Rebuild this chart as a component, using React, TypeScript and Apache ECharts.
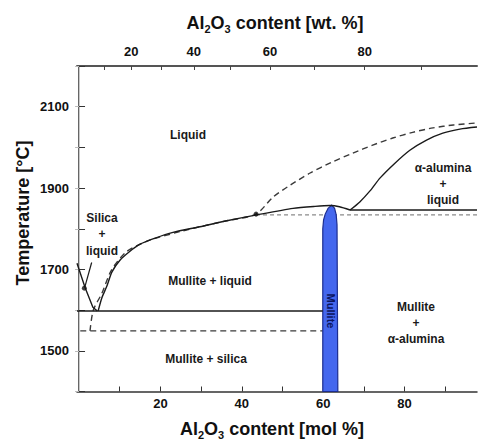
import React, { useEffect, useRef } from 'react';
import * as echarts from 'echarts';

// ---- axis ticks ----
const wtTicks = [10, 20, 30, 40, 50, 60, 70, 80, 90];
const wtLabels = [20, 40, 60, 80];
const molTicks = [10, 20, 30, 40, 50, 60, 70, 80, 90];
const molLabels = [20, 40, 60, 80];
const tempLabels = [1500, 1700, 1900, 2100];

// ---- phase boundaries [mol % Al2O3, °C] ----
const solidMulliteLiquidus = [
  [4.7, 1598], [5.6, 1630], [6.8, 1658], [8.1, 1694], [10.1, 1723], [12.3, 1743],
  [15, 1762], [18.7, 1777], [23.1, 1791], [29.7, 1805], [36, 1819], [43.7, 1834],
  [52.6, 1850], [58, 1855], [61.7, 1857], [64, 1854], [66.6, 1846],
];
const solidAluminaLiquidus = [
  [66.6, 1846], [69, 1866], [71.5, 1893], [74, 1925], [77.5, 1960], [81.3, 1993], [85.4, 2018],
  [89.4, 2035], [93.6, 2045], [97.8, 2050],
];
const solidSilicaLiquidus = [[-0.5, 1715], [1.5, 1655], [3.4, 1607], [4.5, 1598]];
const solidEutectic = [[-0.5, 1598], [59.9, 1598]];
const solidPeritectic = [[66.6, 1846], [97.8, 1846]];
const dashedLiquidus = [
  [2.7, 1549], [3.5, 1600], [5.6, 1641], [8.0, 1699], [11.7, 1744], [17.4, 1772],
  [24.8, 1793], [29.7, 1805], [36, 1819], [43.5, 1836], [47.7, 1878], [52, 1908],
  [56.8, 1937], [62, 1963], [67.3, 1986], [72, 2005], [77.1, 2023], [82, 2037],
  [87, 2048], [92, 2055], [97.8, 2060],
];
const dashedEutectic = [[0.3, 1549], [59.9, 1549]];
const dashedUpperLine = [[43.5, 1834], [97.8, 1834]];
const pointerLine = [[3.1, 1717], [1.4, 1656]];
const markerDots = [[1.3, 1654], [43.5, 1836]];
const mulliteOutline = [
  [59.9, 1400], [59.9, 1800], [60.1, 1822], [60.5, 1836], [61.2, 1850], [62.1, 1858],
  [62.8, 1850], [63.2, 1834], [63.4, 1810], [63.6, 1400],
];

const FONT = '"Liberation Sans", Arial, Helvetica, sans-serif';

function wtToMol(w: number): number {
  const a = w / 101.96;
  const s = (100 - w) / 60.08;
  return (a / (a + s)) * 100;
}

function titleRich(size: number) {
  return {
    a: { fontSize: size, fontWeight: 'bold', fontFamily: FONT, lineHeight: 22, fill: '#111', color: '#111' },
    s: { fontSize: Math.round(size * 0.62), fontWeight: 'bold', fontFamily: FONT, lineHeight: 10, verticalAlign: 'bottom', fill: '#111', color: '#111' },
  };
}

export default function App() {
  const ref = useRef<HTMLDivElement>(null);

  useEffect(() => {
    if (!ref.current) return;
    const chart = echarts.init(ref.current, undefined, { renderer: 'svg' });
    const XMIN = -0.5;
    const XMAX = 97.8;

    const solid = (data: number[][], smooth: number | boolean = false) => ({
      type: 'line', data, symbol: 'none', z: 4, silent: true, smooth,
      lineStyle: { color: '#1a1a1a', width: 1.4, type: 'solid' },
    });
    const dashed = (data: number[][], color: string, dash: number[], smooth: number | boolean = false) => ({
      type: 'line', data, symbol: 'none', z: 2, silent: true, smooth,
      lineStyle: { color, width: 1.4, type: dash },
    });

    const labelStyle = (text: string, x: number, y: number, lh = 16) => ({
      type: 'text', x, y, z: 10,
      style: {
        text, x: 0, y: 0, align: 'center', verticalAlign: 'middle', textAlign: 'center', textVerticalAlign: 'middle',
        font: `bold 12px ${FONT}`, fill: '#1a1a1a', lineHeight: lh,
      },
    });

    const option: any = {
      animation: false,
      grid: { left: 77, top: 66, right: 1, bottom: 50.5, containLabel: false },
      xAxis: [
        {
          type: 'value', position: 'bottom', min: XMIN, max: XMAX,
          axisLine: { show: true, lineStyle: { color: '#333', width: 1.5 } },
          axisTick: { show: true, inside: true, length: 5, customValues: molTicks, lineStyle: { color: '#333', width: 1 } },
          axisLabel: {
            show: true, customValues: molLabels, margin: 5,
            color: '#111', fontSize: 13, fontWeight: 'bold', fontFamily: FONT,
          },
          splitLine: { show: false },
        },
        {
          type: 'value', position: 'top', min: XMIN, max: XMAX,
          axisLine: { show: true, lineStyle: { color: '#555', width: 2 } },
          axisTick: { show: true, inside: true, length: 4, customValues: wtTicks.map(wtToMol), lineStyle: { color: '#444', width: 1 } },
          axisLabel: {
            show: true, customValues: wtLabels.map(wtToMol), margin: 8,
            color: '#111', fontSize: 13, fontWeight: 'bold', fontFamily: FONT,
            formatter: (v: number) => {
              let best = wtLabels[0];
              let d = Infinity;
              for (const w of wtLabels) {
                const dd = Math.abs(wtToMol(w) - v);
                if (dd < d) { d = dd; best = w; }
              }
              return String(best);
            },
          },
          splitLine: { show: false },
        },
      ],
      yAxis: [
        {
          type: 'value', position: 'left', min: 1400, max: 2200, interval: 100,
          axisLine: { show: true, lineStyle: { color: '#333', width: 1.5 } },
          axisTick: { show: true, inside: true, length: 6, lineStyle: { color: '#333', width: 1 } },
          axisLabel: {
            show: true, margin: 8, color: '#111', fontSize: 13, fontWeight: 'bold', fontFamily: FONT,
            formatter: (v: number) => (tempLabels.includes(v) ? String(v) : ''),
          },
          splitLine: { show: false },
        },
        {
          type: 'value', position: 'right', min: 1400, max: 2200, interval: 100,
          axisLine: { show: true, lineStyle: { color: '#c8c8c8', width: 1 } },
          axisTick: { show: true, inside: true, length: 4, lineStyle: { color: '#bbb', width: 1 } },
          axisLabel: { show: false },
          splitLine: { show: false },
        },
      ],
      series: [
        dashed(dashedLiquidus, '#3a3a3a', [6, 4], 0.25),
        dashed(dashedEutectic, '#3a3a3a', [6, 4]),
        dashed(dashedUpperLine, '#8a8a8a', [4, 3]),
        {
          type: 'custom', z: 3, silent: true, clip: false,
          data: [0],
          renderItem: (_p: any, api: any) => ({
            type: 'polygon',
            shape: { points: mulliteOutline.map((p) => api.coord(p)) },
            style: { fill: '#4467ee', stroke: '#1c2d8f', lineWidth: 1.2 },
          }),
        },
        solid(solidMulliteLiquidus, 0.25),
        solid(solidAluminaLiquidus, 0.25),
        solid(solidSilicaLiquidus),
        solid(solidEutectic),
        solid(solidPeritectic),
        {
          type: 'line', data: pointerLine, symbol: 'none', z: 4, silent: true,
          lineStyle: { color: '#1a1a1a', width: 1.2 },
        },
        {
          type: 'scatter', data: markerDots, symbol: 'circle', symbolSize: 5, z: 5, silent: true,
          itemStyle: { color: '#111' },
        },
      ],
      graphic: [
        {
          type: 'text', x: 275, y: 23, z: 10,
          style: { text: '{a|Al}{s|2}{a|O}{s|3}{a| content [wt. %]}', rich: titleRich(18), align: 'center', verticalAlign: 'middle', textAlign: 'center', textVerticalAlign: 'middle' },
        },
        {
          type: 'text', x: 272, y: 429, z: 10,
          style: { text: '{a|Al}{s|2}{a|O}{s|3}{a| content [mol %]}', rich: titleRich(18), align: 'center', verticalAlign: 'middle', textAlign: 'center', textVerticalAlign: 'middle' },
        },
        {
          type: 'text', x: 23, y: 213, z: 10, rotation: Math.PI / 2,
          style: {
            text: 'Temperature [°C]', align: 'center', verticalAlign: 'middle', textAlign: 'center', textVerticalAlign: 'middle',
            font: `bold 18px ${FONT}`, fill: '#111',
          },
        },
        labelStyle('Liquid', 188, 135),
        labelStyle('Silica\n+\nliquid', 102, 234, 16.5),
        labelStyle('Mullite + liquid', 210, 281),
        labelStyle('Mullite + silica', 206, 359),
        labelStyle('Mullite\n+\nα-alumina', 416, 323, 16),
        labelStyle('α-alumina\n+\nliquid', 443, 184, 16),
        {
          type: 'text', x: 331, y: 311, z: 10, rotation: -Math.PI / 2,
          style: {
            text: 'Mullite', align: 'center', verticalAlign: 'middle', textAlign: 'center', textVerticalAlign: 'middle',
            font: `bold 11px ${FONT}`, fill: '#0b1560',
          },
        },
      ],
    };

    chart.setOption(option);
    return () => chart.dispose();
  }, []);

  return (
    <div
      ref={ref}
      style={{ position: 'fixed', left: 0, top: 0, width: 478, height: 442, background: '#fff' }}
    />
  );
}
